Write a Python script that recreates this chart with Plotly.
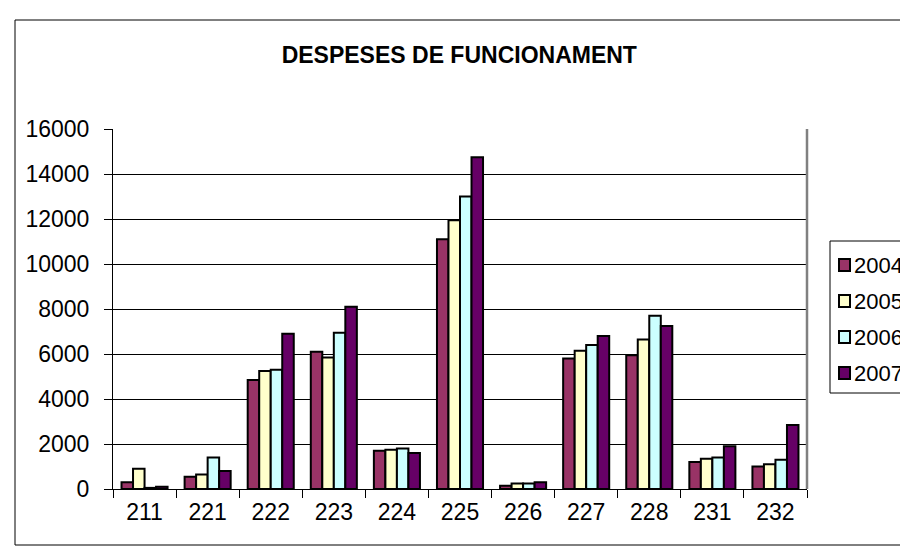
import plotly.graph_objects as go

categories = ["211", "221", "222", "223", "224", "225", "226", "227", "228", "231", "232"]
years = ["2004", "2005", "2006", "2007"]
v2004 = [300, 550, 4850, 6100, 1700, 11100, 150, 5800, 5950, 1200, 1000]
v2005 = [900, 650, 5250, 5850, 1750, 11950, 250, 6150, 6650, 1350, 1100]
v2006 = [50, 1400, 5300, 6950, 1800, 13000, 250, 6400, 7700, 1400, 1300]
v2007 = [100, 800, 6900, 8100, 1600, 14750, 300, 6800, 7250, 1900, 2850]
colors = ["#993366", "#FFFFCC", "#CCFFFF", "#660066"]
series = [v2004, v2005, v2006, v2007]

W, H = 908, 552
L, R, T, B = 105, 109, 121, 71
pw, ph = W - L - R, H - T - B


def px(x):
    return (x - L) / pw


def py(y):
    return (H - B - y) / ph


font = "Arial, Liberation Sans, sans-serif"

fig = go.Figure()
for name, vals, col in zip(years, series, colors):
    fig.add_trace(go.Bar(
        x=categories, y=vals, name=name, showlegend=False,
        marker=dict(color=col, line=dict(color="black", width=2)),
    ))

shapes = [
    dict(type="line", xref="paper", yref="paper", x0=1, x1=1, y0=0, y1=1,
         line=dict(color="#808080", width=2.5)),
    dict(type="rect", xref="paper", yref="paper",
         x0=px(7), x1=px(930), y0=py(537), y1=py(12),
         line=dict(color="black", width=1), layer="below"),
    dict(type="rect", xref="paper", yref="paper",
         x0=px(822), x1=px(930), y0=py(385), y1=py(233),
         line=dict(color="black", width=1), fillcolor="white", layer="below"),
]
annotations = []
for i, (name, col) in enumerate(zip(years, colors)):
    cy = 257 + 36 * i
    shapes.append(dict(type="rect", xref="paper", yref="paper",
                       x0=px(831), x1=px(842), y0=py(cy + 6), y1=py(cy - 6),
                       line=dict(color="black", width=2), fillcolor=col))
    annotations.append(dict(text=name, xref="paper", yref="paper", x=px(844), y=py(cy),
                            xanchor="left", yanchor="middle", showarrow=False,
                            font=dict(family=font, size=22, color="black")))

fig.update_layout(
    width=W, height=H,
    margin=dict(l=L, r=R, t=T, b=B, autoexpand=False),
    paper_bgcolor="white", plot_bgcolor="white",
    barmode="group", bargap=0.27, bargroupgap=0,
    font=dict(family=font, size=23, color="black"),
    title=dict(text="<b>DESPESES DE FUNCIONAMENT</b>", x=0.497, xanchor="center",
               y=1 - 47 / H, yanchor="middle", font=dict(family=font, size=23, color="black")),
    showlegend=False,
    xaxis=dict(type="category", showline=True, linecolor="black", linewidth=1,
               ticks="outside", ticklen=8, tickcolor="black", tickson="boundaries",
               showgrid=False, tickfont=dict(size=23), ticklabelstandoff=2),
    yaxis=dict(range=[0, 16000], dtick=2000, tickformat="d", showline=True,
               linecolor="black", linewidth=1,
               ticks="outside", ticklen=8, tickcolor="black", showgrid=True,
               gridcolor="black", gridwidth=1, zeroline=False, tickfont=dict(size=23),
               ticklabelstandoff=10),
    shapes=shapes,
    annotations=annotations,
)

fig.write_html("out.html")
